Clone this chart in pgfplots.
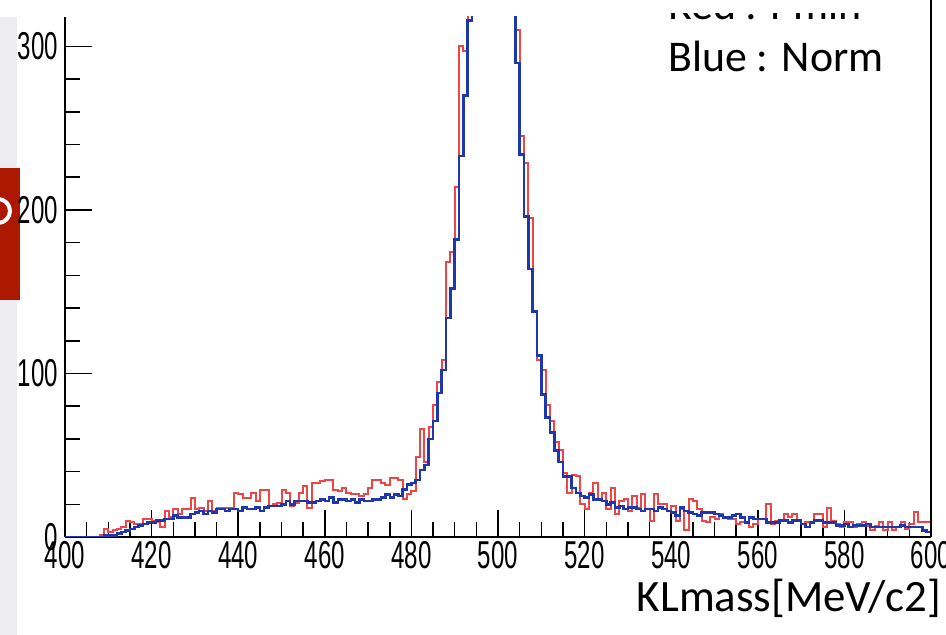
\documentclass[border=0pt]{standalone}
\usepackage{pgfplots}
\pgfplotsset{compat=1.18}
\usepackage{pgfplotstable}
\usepackage{fontspec}
\setmainfont{Carlito}
\newfontfamily\rootfont[FakeStretch=0.62]{Liberation Sans}
\definecolor{rootred}{RGB}{238,70,70}
\definecolor{rootblue}{RGB}{30,55,175}
\definecolor{slidegrey}{RGB}{236,236,241}
\definecolor{slidered}{RGB}{172,24,0}
\pgfplotstableread{
x blue red
400 0 0
401 0 0
402 0 0
403 0 0
404 0 0
405 0 0
406 0 0
407 0 0
408 0 1
409 1 5
410 1 3
411 1 4
412 2 5
413 3 6
414 4 10
415 5 9
416 6 8
417 7 8
418 8 11
419 9 11
420 9 10
421 10 9
422 10 6
423 11 16
424 11 12
425 13 17
426 12 14
427 12 17
428 12 17
429 14 24
430 15 17
431 16 18
432 14 16
433 16 22
434 15 16
435 17 18
436 17 18
437 16 18
438 17 18
439 17 27
440 16 26
441 18 24
442 17 24
443 17 27
444 18 22
445 16 29
446 18 29
447 19 19
448 19 20
449 19 21
450 20 29
451 22 27
452 20 19
453 22 21
454 22 27
455 22 31
456 21 18
457 21 33
458 22 33
459 23 34
460 22 35
461 24 35
462 21 29
463 23 28
464 23 30
465 22 27
466 23 26
467 21 26
468 23 25
469 22 26
470 22 30
471 23 35
472 23 35
473 24 33
474 26 32
475 24 36
476 26 36
477 25 35
478 29 23
479 32 26
480 33 28
481 35 49
482 41 66
483 44 46
484 60 67
485 71 81
486 88 95
487 102 108
488 134 168
489 152 174
490 182 214
491 233 300
492 270 297
493 316 340
494 390 420
495 460 500
496 540 570
497 600 630
498 640 660
499 650 650
500 620 610
501 560 540
502 470 450
503 380 370
504 290 310
505 234 245
506 196 229
507 164 195
508 138 138
509 111 108
510 87 102
511 73 81
512 64 71
513 53 58
514 46 53
515 37 39
516 37 27
517 30 38
518 27 37
519 25 20
520 24 17
521 26 27
522 23 33
523 23 23
524 22 27
525 20 17
526 21 30
527 18 14
528 19 22
529 17 23
530 18 16
531 18 25
532 17 18
533 16 26
534 17 17
535 17 10
536 16 26
537 18 20
538 17 20
539 16 16
540 15 19
541 13 10
542 18 17
543 16 4
544 15 23
545 14 22
546 13 17
547 15 10
548 15 9
549 15 12
550 14 11
551 13 14
552 12 12
553 12 11
554 13 11
555 14 8
556 12 9
557 9 9
558 12 6
559 11 8
560 11 11
561 11 11
562 9 20
563 9 8
564 9 10
565 10 10
566 10 14
567 9 12
568 10 14
569 10 10
570 8 8
571 6 9
572 9 9
573 10 14
574 10 14
575 9 6
576 9 18
577 9 10
578 7 8
579 7 6
580 8 9
581 6 9
582 7 6
583 7 8
584 7 9
585 8 7
586 6 4
587 6 7
588 6 9
589 6 4
590 6 9
591 6 4
592 6 6
593 7 9
594 6 5
595 6 8
596 6 15
597 6 9
598 4 9
599 3 9
600 3 9
}\hist
\begin{document}
\begin{tikzpicture}[x=1bp,y=1bp]
\fill[slidegrey] (0,0) rectangle (17,618);
\fill[slidered] (0,335) rectangle (20,467);
\draw[white, line width=4bp] (-2,436) arc[start angle=90, end angle=-90, radius=12];
\begin{axis}[
  at={(65bp,98bp)}, anchor=south west,
  scale only axis, width=866bp, height=520bp,
  xmin=400, xmax=600, ymin=0, ymax=318,
  axis x line*=bottom, axis y line*=left,
  axis line style={black, line width=1.6bp, -},
  tick align=inside,
  xtick={400,420,...,600}, ytick={0,100,200,300},
  minor x tick num=3, minor y tick num=4,
  major tick length=27bp, minor tick length=15bp,
  every tick/.style={black, line width=1.5bp},
  tick label style={font=\rootfont\fontsize{39}{39}\selectfont, inner sep=0pt},
  /pgf/number format/assume math mode=true,
  xticklabel style={yshift=-4bp},
  yticklabel style={xshift=-7bp},
]
\addplot[const plot, rootred, line width=2bp] table[x=x, y=red] {\hist};
\addplot[const plot, rootblue, line width=2.5bp] table[x=x, y=blue] {\hist};
\end{axis}
\draw[black, line width=1.6bp] (931,98) -- (931,635);
\node[anchor=base west, inner sep=0pt, font=\fontsize{44}{44}\selectfont] at (668,615) {Red : Pmin};
\fill[white] (600,622) rectangle (925,636);
\node[anchor=base west, inner sep=0pt, font=\fontsize{44}{44}\selectfont] at (668,563) {Blue : Norm};
\node[anchor=base east, inner sep=0pt, font=\fontsize{45}{45}\selectfont] at (941,23) {KLmass[MeV/c2]};
\pgfresetboundingbox
\useasboundingbox (0,0) rectangle (946,635);
\end{tikzpicture}
\end{document}
